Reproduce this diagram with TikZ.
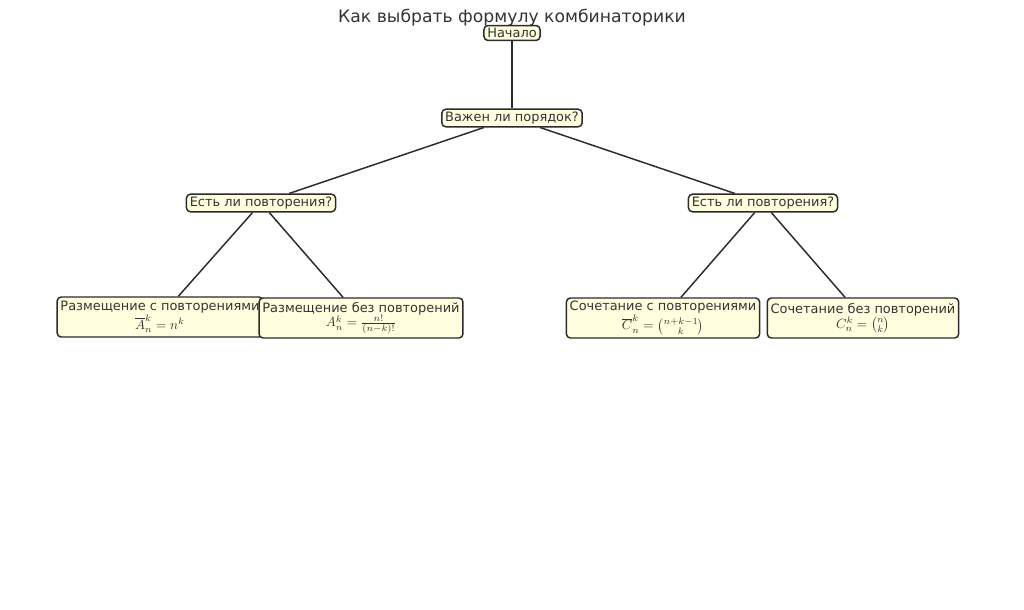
\documentclass[tikz,border=0pt]{standalone}
\usepackage{fontspec}
\setmainfont{DejaVu Sans}
\usepackage{amsmath}
\usepackage{xcolor}
\definecolor{boxfill}{HTML}{FFFFE0}
\definecolor{boxline}{HTML}{2B2B2B}
\definecolor{inktext}{HTML}{333333}
\tikzset{%
  qbox/.style={draw=boxline, fill=boxfill, rounded corners=3pt, line width=1.1pt,
    text=inktext, inner xsep=2.5pt, inner ysep=2pt, font=\fontsize{9.7}{11}\selectfont},
  leafbox/.style={qbox, align=center, minimum height=30pt},
  link/.style={draw=boxline, line width=1.1pt}
}

\begin{document}
\begin{tikzpicture}[x=.75pt,y=-.75pt]
\useasboundingbox (0,0) rectangle (1024,610);
\node[text=inktext, font=\fontsize{12.9}{14}\selectfont] (title) at (512,18) {Как выбрать формулу комбинаторики};
\node[qbox] (start) at (512,33) {Начало};
\node[qbox] (order) at (512,118) {Важен ли порядок?};
\node[qbox] (repL) at (261,203) {Есть ли повторения?};
\node[qbox] (repR) at (763,203) {Есть ли повторения?};
\node[leafbox] (arrRep) at (160,317) {Размещение с повторениями\\$\overline{A}_n^k = n^k$};
\node[leafbox] (arrNo) at (361,318) {Размещение без повторений\\$A_n^k = \tfrac{n!}{(n-k)!}$};
\node[leafbox] (combRep) at (663,318) {Сочетание с повторениями\\$\overline{C}_n^k = \tbinom{n+k-1}{k}$};
\node[leafbox] (combNo) at (863,318) {Сочетание без повторений\\$C_n^k = \tbinom{n}{k}$};
\draw[link] (start) -- (order);
\draw[link] (order) -- (repL);
\draw[link] (order) -- (repR);
\draw[link] (repL) -- (arrRep);
\draw[link] (repL) -- (arrNo);
\draw[link] (repR) -- (combRep);
\draw[link] (repR) -- (combNo);
\end{tikzpicture}
\end{document}
